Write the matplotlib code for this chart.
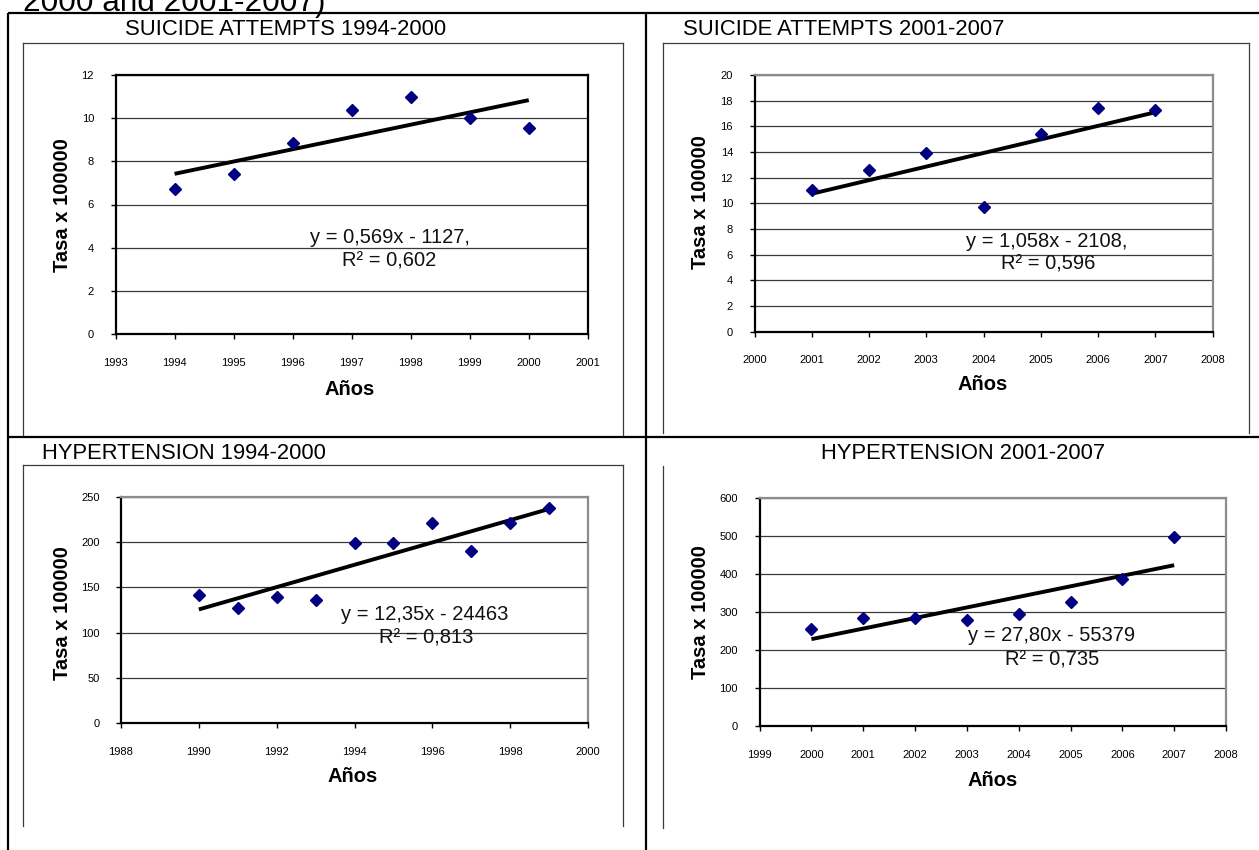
import numpy as np
import matplotlib
matplotlib.use("Agg")
import matplotlib.pyplot as plt
from matplotlib.lines import Line2D

plt.rcParams['font.family'] = ['Liberation Sans', 'DejaVu Sans']

# ---- data -------------------------------------------------------------
years_sa1 = [1994, 1995, 1996, 1997, 1998, 1999, 2000]
rate_sa1 = [6.7, 7.4, 8.85, 10.4, 11.0, 10.0, 9.55]

years_sa2 = [2001, 2002, 2003, 2004, 2005, 2006, 2007]
rate_sa2 = [11.05, 12.6, 13.95, 9.75, 15.4, 17.4, 17.3]

years_ht1 = [1990, 1991, 1992, 1993, 1994, 1995, 1996, 1997, 1998, 1999]
rate_ht1 = [142, 127, 139, 136, 199, 199, 221, 190, 221, 238]

years_ht2 = [2000, 2001, 2002, 2003, 2004, 2005, 2006, 2007]
rate_ht2 = [255, 283, 284, 280, 295, 326, 386, 498]

titles = ["SUICIDE ATTEMPTS 1994-2000", "SUICIDE ATTEMPTS 2001-2007",
          "HYPERTENSION 1994-2000", "HYPERTENSION 2001-2007"]
slopes = [0.569, 1.058, 12.35, 27.80]
eq_texts = ["y = 0,569x - 1127,", "y = 1,058x - 2108,",
            "y = 12,35x - 24463", "y = 27,80x - 55379"]
r2_texts = ["R² = 0,602", "R² = 0,596", "R² = 0,813", "R² = 0,735"]

x_limits = [(1993, 2001), (2000, 2008), (1988, 2000), (1999, 2008)]
x_steps = [1, 1, 2, 1]
y_limits = [(0, 12), (0, 20), (0, 250), (0, 600)]
y_steps = [2, 2, 50, 100]

# ---- figure / layout helpers (pixel coordinates from top-left) ----------
W, H = 1259, 850
fig = plt.figure(figsize=(W / 100, H / 100), dpi=100)
fig.patch.set_facecolor("white")


def fx(x):
    return x / W


def fy(y):
    return 1 - y / H


def hline(y, x0, x1, **kw):
    fig.add_artist(Line2D([fx(x0), fx(x1)], [fy(y), fy(y)],
                          transform=fig.transFigure, **kw))


def vline(x, y0, y1, **kw):
    fig.add_artist(Line2D([fx(x), fx(x)], [fy(y0), fy(y1)],
                          transform=fig.transFigure, **kw))


# table frame
table_kw = dict(color="black", lw=1.6, solid_capstyle="butt")
vline(7.7, 12.7, 850, **table_kw)
hline(12.7, 7.7, W, **table_kw)
vline(645.7, 12.7, 850, **table_kw)
hline(436.7, 7.7, W, **table_kw)

# chart-area outlines
box_kw = dict(color="#3c3c3c", lw=0.9)
vline(23, 43, 435, **box_kw)
hline(43, 23, 623, **box_kw)
vline(623, 43, 435, **box_kw)

vline(662.7, 42.7, 432.7, **box_kw)
hline(42.7, 662.7, 1249, **box_kw)
vline(1249, 42.7, 432.7, **box_kw)

vline(23, 465, 825.7, **box_kw)
hline(465, 23, 623, **box_kw)
vline(623, 465, 825.7, **box_kw)

vline(662.7, 466, 828, **box_kw)

# caption running off the top edge
fig.text(fx(23), fy(10.5), "2000 and 2001-2007)", fontsize=22.7,
         ha="left", va="baseline", color="black")

# plot rectangles: left, top, right, bottom (px)
rects = [(115.5, 75, 587.8, 334), (754.5, 75, 1212.5, 331.7),
         (121, 497, 588, 723), (759.6, 498, 1226, 726)]
title_pos = [(285.5, 35), (843.3, 35), (183.8, 459.5), (962.8, 459.5)]
ylabel_pos = [(63, 205), (701, 202), (63, 613), (701, 612)]
xlabel_pos = [(350, 395), (983, 390), (353, 781.7), (992.5, 786)]
eq_pos = [(389.8, 243.3), (1046.6, 246.7), (424.5, 620), (1052, 640.7)]
r2_pos = [(388.8, 266.7), (1048.6, 270), (426.5, 644), (1052, 665)]

series = [(years_sa1, rate_sa1), (years_sa2, rate_sa2),
          (years_ht1, rate_ht1), (years_ht2, rate_ht2)]

for i, (xs, ys) in enumerate(series):
    l, t, r, b = rects[i]
    ax = fig.add_axes([fx(l), fy(b), (r - l) / W, (b - t) / H])
    ax.set_facecolor("white")
    ax.set_xlim(*x_limits[i])
    ax.set_ylim(*y_limits[i])
    ax.set_xticks(np.arange(x_limits[i][0], x_limits[i][1] + 0.5, x_steps[i]))
    ax.set_yticks(np.arange(y_limits[i][0], y_limits[i][1] + 0.5, y_steps[i]))
    ax.yaxis.grid(True, color="#3a3a3a", lw=0.9)
    ax.set_axisbelow(True)
    ax.tick_params(axis="x", direction="out", length=3.5, width=1,
                   labelsize=8, pad=13.5, colors="black")
    ax.tick_params(axis="y", direction="out", length=3.5, width=1,
                   labelsize=8, pad=12, colors="black")
    for side in ("left", "bottom"):
        ax.spines[side].set_color("black")
        ax.spines[side].set_linewidth(1.6)
    edge = "black" if i == 0 else "#8c8c8c"
    for side in ("top", "right"):
        ax.spines[side].set_color(edge)
        ax.spines[side].set_linewidth(1.6)

    # linear trend through the centroid with the stated slope
    xa = np.array(xs, dtype=float)
    ya = np.array(ys, dtype=float)
    x0, y0 = xa.mean(), ya.mean()
    xt = np.array([xa[0], xa[-1]])
    yt = y0 + slopes[i] * (xt - x0)
    ax.plot(xt, yt, color="black", lw=2.8, solid_capstyle="butt", zorder=3)

    ax.plot(xs, ys, linestyle="none", marker="D", ms=6.4,
            color="#000080", mec="#000080", zorder=4)

    fig.text(fx(title_pos[i][0]), fy(title_pos[i][1]), titles[i],
             fontsize=15.8, ha="center", va="baseline", color="black")
    fig.text(fx(ylabel_pos[i][0]), fy(ylabel_pos[i][1]), "Tasa x 100000",
             fontsize=14.5, fontweight="bold", rotation=90,
             ha="center", va="center", color="black")
    fig.text(fx(xlabel_pos[i][0]), fy(xlabel_pos[i][1]), "Años",
             fontsize=14.5, fontweight="bold", ha="center", va="baseline",
             color="black")
    fig.text(fx(eq_pos[i][0]), fy(eq_pos[i][1]), eq_texts[i],
             fontsize=14.5, ha="center", va="baseline", color="#111111",
             zorder=5)
    fig.text(fx(r2_pos[i][0]), fy(r2_pos[i][1]), r2_texts[i],
             fontsize=14.5, ha="center", va="baseline", color="#111111",
             zorder=5)

fig.savefig("out.png", dpi=100, facecolor="white")
